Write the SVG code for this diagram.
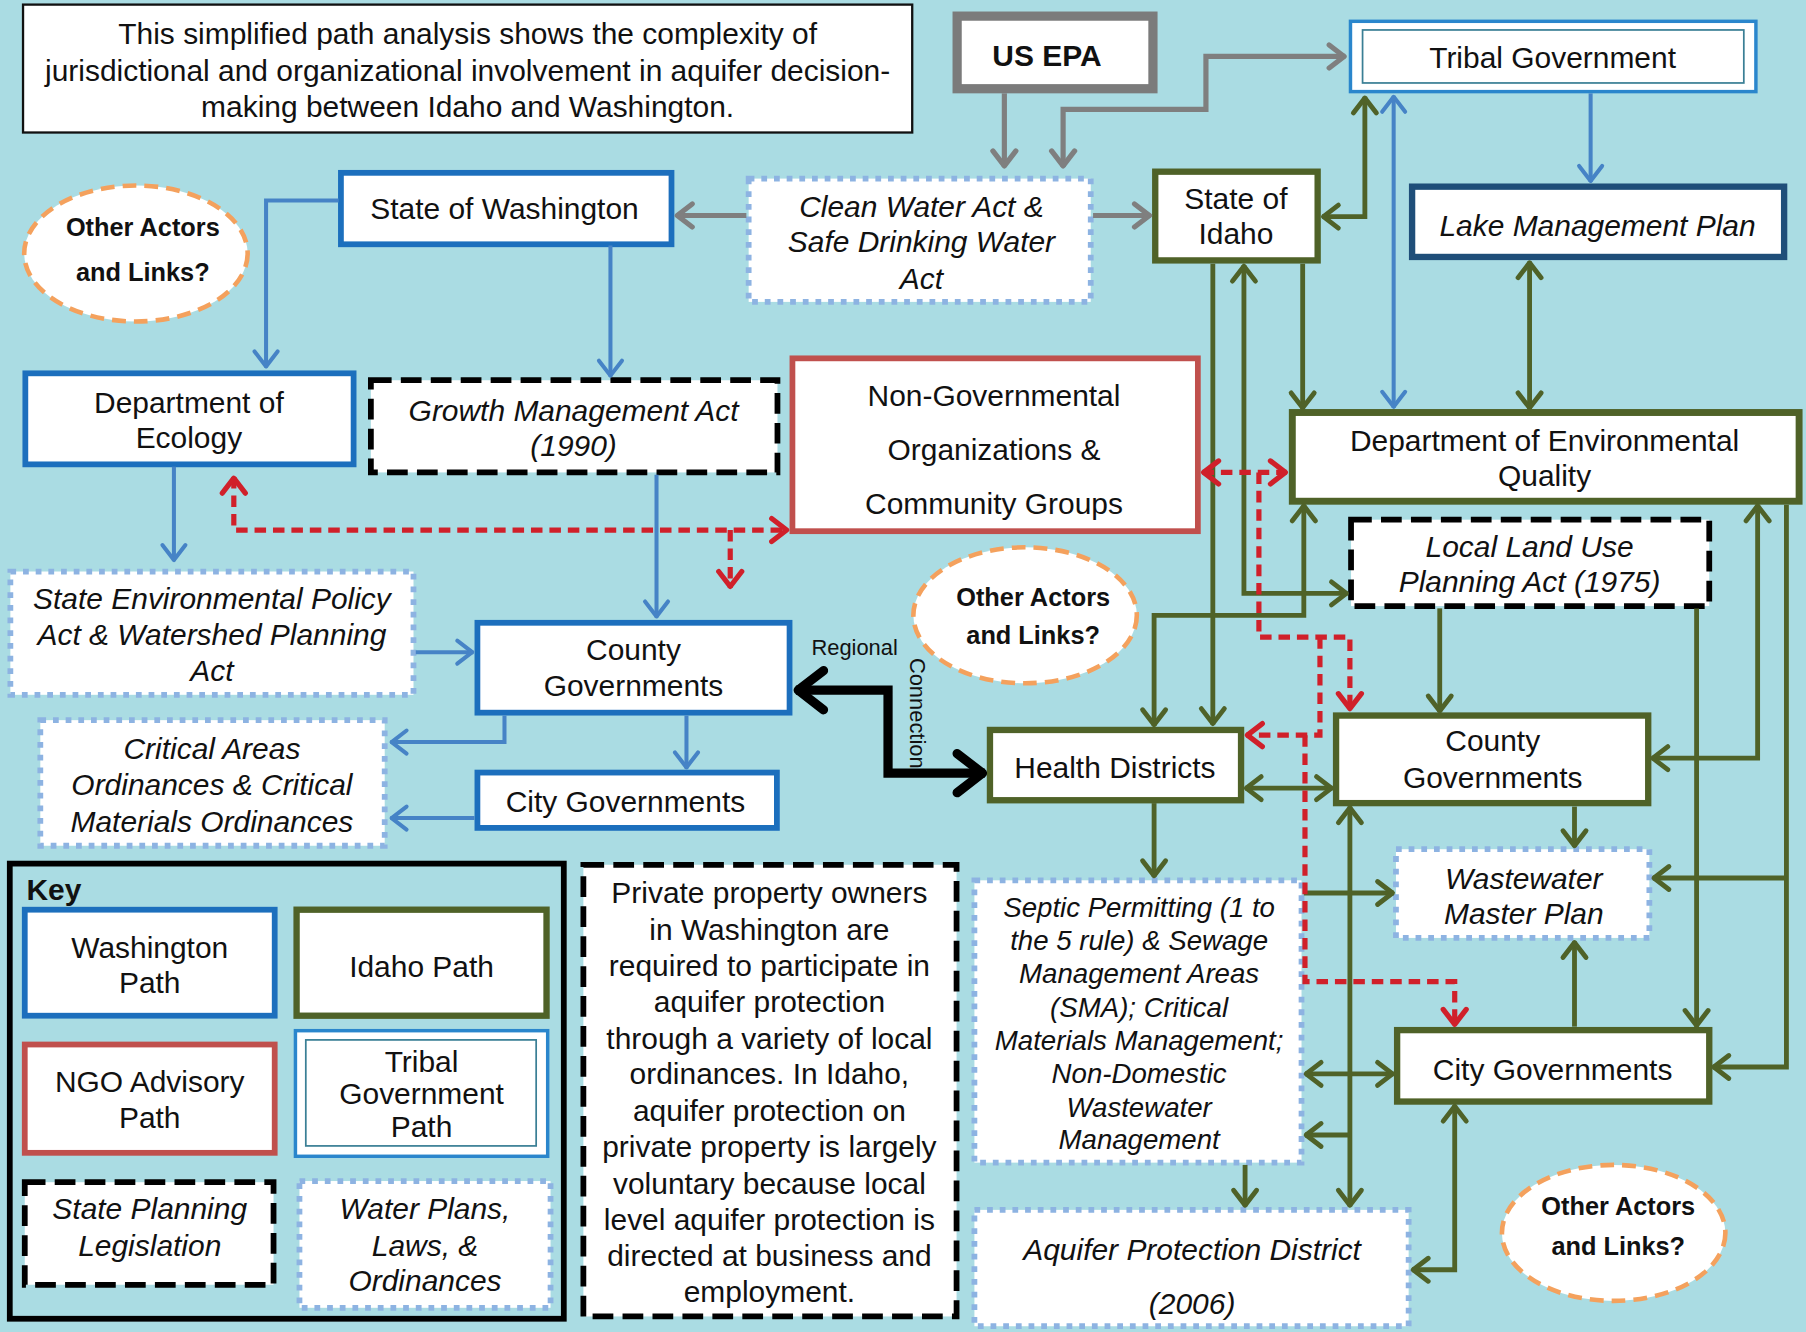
<svg xmlns="http://www.w3.org/2000/svg" width="1806" height="1332" viewBox="0 0 1806 1332">
<defs>
<style>
.t{font-family:"Liberation Sans",Arial,sans-serif;font-size:26px;text-anchor:middle;dominant-baseline:central;fill:#111}
.i{font-style:italic}
.b{font-weight:bold}
.s24{font-size:24px}
.s22{font-size:22px}
.s19{font-size:19px}
.wa{fill:#fff;stroke:#1c6fbd;stroke-width:5}
.id{fill:#fff;stroke:#4f6228;stroke-width:5.5}
.ngo{fill:#fff;stroke:#c0504d;stroke-width:5}
.leg{fill:#fff;stroke:#000;stroke-width:5;stroke-dasharray:18 8}
.law{fill:#fff;stroke:#8db3e2;stroke-width:5;stroke-dasharray:5 6}
.oth{fill:#fff;stroke:#f4a15d;stroke-width:4;stroke-dasharray:12 7}
.cg{fill:none;stroke:#4f6228;stroke-width:4.2}
.cb{fill:none;stroke:#4683c6;stroke-width:3.5}
.cr{fill:none;stroke:#d0202a;stroke-width:4.5;stroke-dasharray:10 6}
.cy{fill:none;stroke:#7f7f7f;stroke-width:4.5}
.ck{fill:none;stroke:#000;stroke-width:8}
</style>
<marker id="mg" markerUnits="userSpaceOnUse" viewBox="-20 -15 24 30" markerWidth="24" markerHeight="30" refX="1" refY="0" orient="auto-start-reverse" overflow="visible"><path d="M-13,-10 L0,0 L-13,10" fill="none" stroke="#4f6228" stroke-width="4.2" stroke-linejoin="round" stroke-linecap="round"/></marker>
<marker id="mb" markerUnits="userSpaceOnUse" viewBox="-20 -15 24 30" markerWidth="24" markerHeight="30" refX="1" refY="0" orient="auto-start-reverse" overflow="visible"><path d="M-13,-10 L0,0 L-13,10" fill="none" stroke="#4683c6" stroke-width="3.5" stroke-linejoin="round" stroke-linecap="round"/></marker>
<marker id="mr" markerUnits="userSpaceOnUse" viewBox="-20 -15 24 30" markerWidth="24" markerHeight="30" refX="1" refY="0" orient="auto-start-reverse" overflow="visible"><path d="M-13,-10 L0,0 L-13,10" fill="none" stroke="#d0202a" stroke-width="4.5" stroke-linejoin="round" stroke-linecap="round"/></marker>
<marker id="my" markerUnits="userSpaceOnUse" viewBox="-20 -15 24 30" markerWidth="24" markerHeight="30" refX="1" refY="0" orient="auto-start-reverse" overflow="visible"><path d="M-13,-10 L0,0 L-13,10" fill="none" stroke="#7f7f7f" stroke-width="4.5" stroke-linejoin="round" stroke-linecap="round"/></marker>
<marker id="mk" markerUnits="userSpaceOnUse" viewBox="-30 -22 34 44" markerWidth="34" markerHeight="44" refX="2" refY="0" orient="auto-start-reverse" overflow="visible"><path d="M-22,-17 L0,0 L-22,17" fill="none" stroke="#000" stroke-width="8" stroke-linejoin="round" stroke-linecap="round"/></marker>
</defs>
<rect x="0" y="0" width="1806" height="1332" fill="#aadce3"/>
<g transform="scale(1.15179,1.15225)">

<g id="description">
<rect x="20" y="4" width="772" height="111" fill="#fff" stroke="#111" stroke-width="2"/>
<text class="t" x="406" y="29">This simplified path analysis shows the complexity of</text>
<text class="t" x="406" y="61">jurisdictional and organizational involvement in aquifer decision-</text>
<text class="t" x="406" y="92">making between Idaho and Washington.</text>
</g>

<g id="us-epa">
<rect x="831" y="14" width="170" height="63" fill="#fff" stroke="#7b7b7b" stroke-width="8"/>
<text class="t b" x="909" y="48">US EPA</text>
</g>

<g id="tribal-government">
<rect x="1172.5" y="18.5" width="352" height="61" fill="#fff" stroke="#2a86cc" stroke-width="3"/>
<rect x="1183" y="26" width="331" height="46" fill="#fff" stroke="#3a7f95" stroke-width="1.5"/>
<text class="t" x="1348" y="50">Tribal Government</text>
</g>

<g id="state-of-washington">
<rect class="wa" x="296" y="150" width="287" height="62"/>
<text class="t" x="438" y="181">State of Washington</text>
</g>

<g id="clean-water-act">
<rect class="law" x="650" y="155" width="297" height="107"/>
<text class="t i" x="800" y="179">Clean Water Act &amp;</text>
<text class="t i" x="800" y="210">Safe Drinking Water</text>
<text class="t i" x="800" y="242">Act</text>
</g>

<g id="state-of-idaho">
<rect class="id" x="1003" y="149" width="141" height="77"/>
<text class="t" x="1073" y="172">State of</text>
<text class="t" x="1073" y="203">Idaho</text>
</g>

<g id="lake-management-plan">
<rect x="1226" y="162" width="323" height="61" fill="#fff" stroke="#1f4e79" stroke-width="5.5"/>
<text class="t i" x="1387" y="196">Lake Management Plan</text>
</g>

<g id="other-actors-1">
<ellipse class="oth" cx="118" cy="220" rx="97" ry="59"/>
<text class="t b s22" x="124" y="197">Other Actors</text>
<text class="t b s22" x="124" y="236">and Links?</text>
</g>

<g id="department-of-ecology">
<rect class="wa" x="22" y="324" width="285" height="79"/>
<text class="t" x="164" y="349">Department of</text>
<text class="t" x="164" y="380">Ecology</text>
</g>

<g id="growth-management-act">
<rect class="leg" x="322" y="330" width="353" height="80"/>
<text class="t i" x="498" y="356">Growth Management Act</text>
<text class="t i" x="498" y="387">(1990)</text>
</g>

<g id="ngo">
<rect class="ngo" x="688" y="311" width="352" height="150"/>
<text class="t" x="863" y="343">Non-Governmental</text>
<text class="t" x="863" y="390">Organizations &amp;</text>
<text class="t" x="863" y="437">Community Groups</text>
</g>

<g id="deq">
<rect x="1122" y="358" width="440" height="77" fill="#fff" stroke="#4f6228" stroke-width="6"/>
<text class="t" x="1341" y="382">Department of Environmental</text>
<text class="t" x="1341" y="413">Quality</text>
</g>

<g id="local-land-use">
<rect class="leg" x="1173" y="451" width="311" height="75"/>
<text class="t i" x="1328" y="474">Local Land Use</text>
<text class="t i" x="1328" y="505">Planning Act (1975)</text>
</g>

<g id="sepa">
<rect class="law" x="9" y="496" width="350" height="107"/>
<text class="t i" x="184" y="519">State Environmental Policy</text>
<text class="t i" x="184" y="551">Act &amp; Watershed Planning</text>
<text class="t i" x="184" y="582">Act</text>
</g>

<g id="county-wa">
<rect class="wa" x="414.5" y="540.5" width="271" height="78"/>
<text class="t" x="550" y="564">County</text>
<text class="t" x="550" y="595">Governments</text>
</g>

<g id="other-actors-2">
<ellipse class="oth" cx="890" cy="534" rx="97" ry="59"/>
<text class="t b s22" x="897" y="518">Other Actors</text>
<text class="t b s22" x="897" y="551">and Links?</text>
</g>

<g id="health-districts">
<rect class="id" x="859.5" y="633.5" width="218" height="61"/>
<text class="t" x="968" y="666">Health Districts</text>
</g>

<g id="county-id">
<rect class="id" x="1160" y="621" width="271" height="76"/>
<text class="t" x="1296" y="643">County</text>
<text class="t" x="1296" y="675">Governments</text>
</g>

<g id="critical-areas">
<rect class="law" x="35" y="625" width="299" height="109"/>
<text class="t i" x="184" y="650">Critical Areas</text>
<text class="t i" x="184" y="681">Ordinances &amp; Critical</text>
<text class="t i" x="184" y="713">Materials Ordinances</text>
</g>

<g id="city-wa">
<rect class="wa" x="414.5" y="670.5" width="260" height="48"/>
<text class="t" x="543" y="696">City Governments</text>
</g>

<g id="wastewater-master-plan">
<rect class="law" x="1212" y="737" width="220" height="77"/>
<text class="t i" x="1323" y="762">Wastewater</text>
<text class="t i" x="1323" y="793">Master Plan</text>
</g>

<g id="septic">
<rect class="law" x="846" y="764" width="284" height="245"/>
<text class="t i s24" x="989" y="788">Septic Permitting (1 to</text>
<text class="t i s24" x="989" y="816">the 5 rule) &amp; Sewage</text>
<text class="t i s24" x="989" y="845">Management Areas</text>
<text class="t i s24" x="989" y="874">(SMA); Critical</text>
<text class="t i s24" x="989" y="903">Materials Management;</text>
<text class="t i s24" x="989" y="932">Non-Domestic</text>
<text class="t i s24" x="989" y="961">Wastewater</text>
<text class="t i s24" x="989" y="989">Management</text>
</g>

<g id="city-id">
<rect class="id" x="1213" y="894" width="271" height="62"/>
<text class="t" x="1348" y="928">City Governments</text>
</g>

<g id="aquifer-protection-district">
<rect class="law" x="846" y="1050" width="377" height="101"/>
<text class="t i" x="1035" y="1084">Aquifer Protection District</text>
<text class="t i" x="1035" y="1131">(2006)</text>
</g>

<g id="other-actors-3">
<ellipse class="oth" cx="1401" cy="1070" rx="97" ry="59"/>
<text class="t b s22" x="1405" y="1047">Other Actors</text>
<text class="t b s22" x="1405" y="1081">and Links?</text>
</g>

<g id="key">
<rect x="8.5" y="749.5" width="481" height="395" fill="none" stroke="#000" stroke-width="5"/>
<text class="t b" x="23" y="772" style="text-anchor:start">Key</text>
<rect class="wa" x="21.5" y="789.5" width="217" height="92"/>
<text class="t" x="130" y="822">Washington</text>
<text class="t" x="130" y="853">Path</text>
<rect class="id" x="257.5" y="789.5" width="217" height="92"/>
<text class="t" x="366" y="839">Idaho Path</text>
<rect class="ngo" x="21.5" y="906.5" width="217" height="94"/>
<text class="t" x="130" y="939">NGO Advisory</text>
<text class="t" x="130" y="970">Path</text>
<rect x="256.5" y="894.5" width="219" height="109" fill="#fff" stroke="#2a86cc" stroke-width="3"/>
<rect x="265.5" y="902.5" width="200" height="92" fill="#fff" stroke="#3a7f95" stroke-width="1.5"/>
<text class="t" x="366" y="921">Tribal</text>
<text class="t" x="366" y="949">Government</text>
<text class="t" x="366" y="978">Path</text>
<rect class="leg" x="21.5" y="1026" width="216" height="89"/>
<text class="t i" x="130" y="1049">State Planning</text>
<text class="t i" x="130" y="1081">Legislation</text>
<rect class="law" x="260" y="1025" width="218" height="110"/>
<text class="t i" x="369" y="1049">Water Plans,</text>
<text class="t i" x="369" y="1081">Laws, &amp;</text>
<text class="t i" x="369" y="1111">Ordinances</text>
</g>

<g id="private-property-note">
<rect class="leg" x="506.5" y="750.5" width="324" height="392"/>
<text class="t" x="668" y="775">Private property owners</text>
<text class="t" x="668" y="806.5">in Washington are</text>
<text class="t" x="668" y="838">required to participate in</text>
<text class="t" x="668" y="869.5">aquifer protection</text>
<text class="t" x="668" y="901">through a variety of local</text>
<text class="t" x="668" y="932">ordinances. In Idaho,</text>
<text class="t" x="668" y="964">aquifer protection on</text>
<text class="t" x="668" y="995">private property is largely</text>
<text class="t" x="668" y="1027">voluntary because local</text>
<text class="t" x="668" y="1058">level aquifer protection is</text>
<text class="t" x="668" y="1090">directed at business and</text>
<text class="t" x="668" y="1121">employment.</text>
</g>

<g id="connectors">
<path class="cy" d="M872,81 V145" marker-end="url(#my)"/>
<path class="cy" d="M923,145 V95 H1047 V49 H1168" marker-start="url(#my)" marker-end="url(#my)"/>
<path class="cy" d="M648,187 H587" marker-end="url(#my)"/>
<path class="cy" d="M949,187 H999" marker-end="url(#my)"/>

<path class="cb" d="M294,174 H231 V319" marker-end="url(#mb)"/>
<path class="cb" d="M530,213 V327" marker-end="url(#mb)"/>
<path class="cb" d="M151,405 V487" marker-end="url(#mb)"/>
<path class="cb" d="M570,412 V536" marker-end="url(#mb)"/>
<path class="cb" d="M361,566 H411" marker-end="url(#mb)"/>
<path class="cb" d="M438,621 V644 H339" marker-end="url(#mb)"/>
<path class="cb" d="M596,621 V667" marker-end="url(#mb)"/>
<path class="cb" d="M412,710 H339" marker-end="url(#mb)"/>
<path class="cb" d="M1381,81 V158" marker-end="url(#mb)"/>
<path class="cb" d="M1210,83 V354" marker-start="url(#mb)" marker-end="url(#mb)"/>

<path class="cg" d="M1148,188 H1185 V84" marker-start="url(#mg)" marker-end="url(#mg)"/>
<path class="cg" d="M1053,229 V629" marker-end="url(#mg)"/>
<path class="cg" d="M1080,230 V515 H1170" marker-start="url(#mg)" marker-end="url(#mg)"/>
<path class="cg" d="M1131,229 V355" marker-end="url(#mg)"/>
<path class="cg" d="M1328,227 V355" marker-start="url(#mg)" marker-end="url(#mg)"/>
<path class="cg" d="M1132,438 V534 H1002 V630" marker-start="url(#mg)" marker-end="url(#mg)"/>
<path class="cg" d="M1526,438 V658 H1434" marker-start="url(#mg)" marker-end="url(#mg)"/>
<path class="cg" d="M1551,438 V926 H1487" marker-end="url(#mg)"/>
<path class="cg" d="M1551,762 H1435" marker-end="url(#mg)"/>
<path class="cg" d="M1250,528 V618" marker-end="url(#mg)"/>
<path class="cg" d="M1473,528 V891" marker-end="url(#mg)"/>
<path class="cg" d="M1081,684 H1157" marker-start="url(#mg)" marker-end="url(#mg)"/>
<path class="cg" d="M1002,697 V761" marker-end="url(#mg)"/>
<path class="cg" d="M1367,700 V735" marker-end="url(#mg)"/>
<path class="cg" d="M1172,700 V1047" marker-start="url(#mg)" marker-end="url(#mg)"/>
<path class="cg" d="M1172,985 H1133" marker-end="url(#mg)"/>
<path class="cg" d="M1132,775 H1210" marker-end="url(#mg)"/>
<path class="cg" d="M1133,932 H1210" marker-start="url(#mg)" marker-end="url(#mg)"/>
<path class="cg" d="M1081,1011 V1047" marker-end="url(#mg)"/>
<path class="cg" d="M1263,959 V1102 H1226" marker-start="url(#mg)" marker-end="url(#mg)"/>
<path class="cg" d="M1367,891 V817" marker-end="url(#mg)"/>

<path class="cr" d="M203,414 V460 H684" marker-start="url(#mr)" marker-end="url(#mr)"/>
<path class="cr" d="M634,460 V510" marker-end="url(#mr)"/>
<path class="cr" d="M1044,410 H1117" marker-start="url(#mr)" marker-end="url(#mr)"/>
<path class="cr" d="M1093,410 V553 H1172 V616" marker-end="url(#mr)"/>
<path class="cr" d="M1146,553 V638 H1082" marker-end="url(#mr)"/>
<path class="cr" d="M1133,638 V852 H1263 V890" marker-end="url(#mr)"/>

<path class="ck" d="M691,599 H771 V671 H855" marker-start="url(#mk)" marker-end="url(#mk)"/>
<text class="t s19" x="742" y="562">Regional</text>
<text class="t s19" transform="translate(797,619) rotate(90)">Connection</text>
</g>

</g>
</svg>
